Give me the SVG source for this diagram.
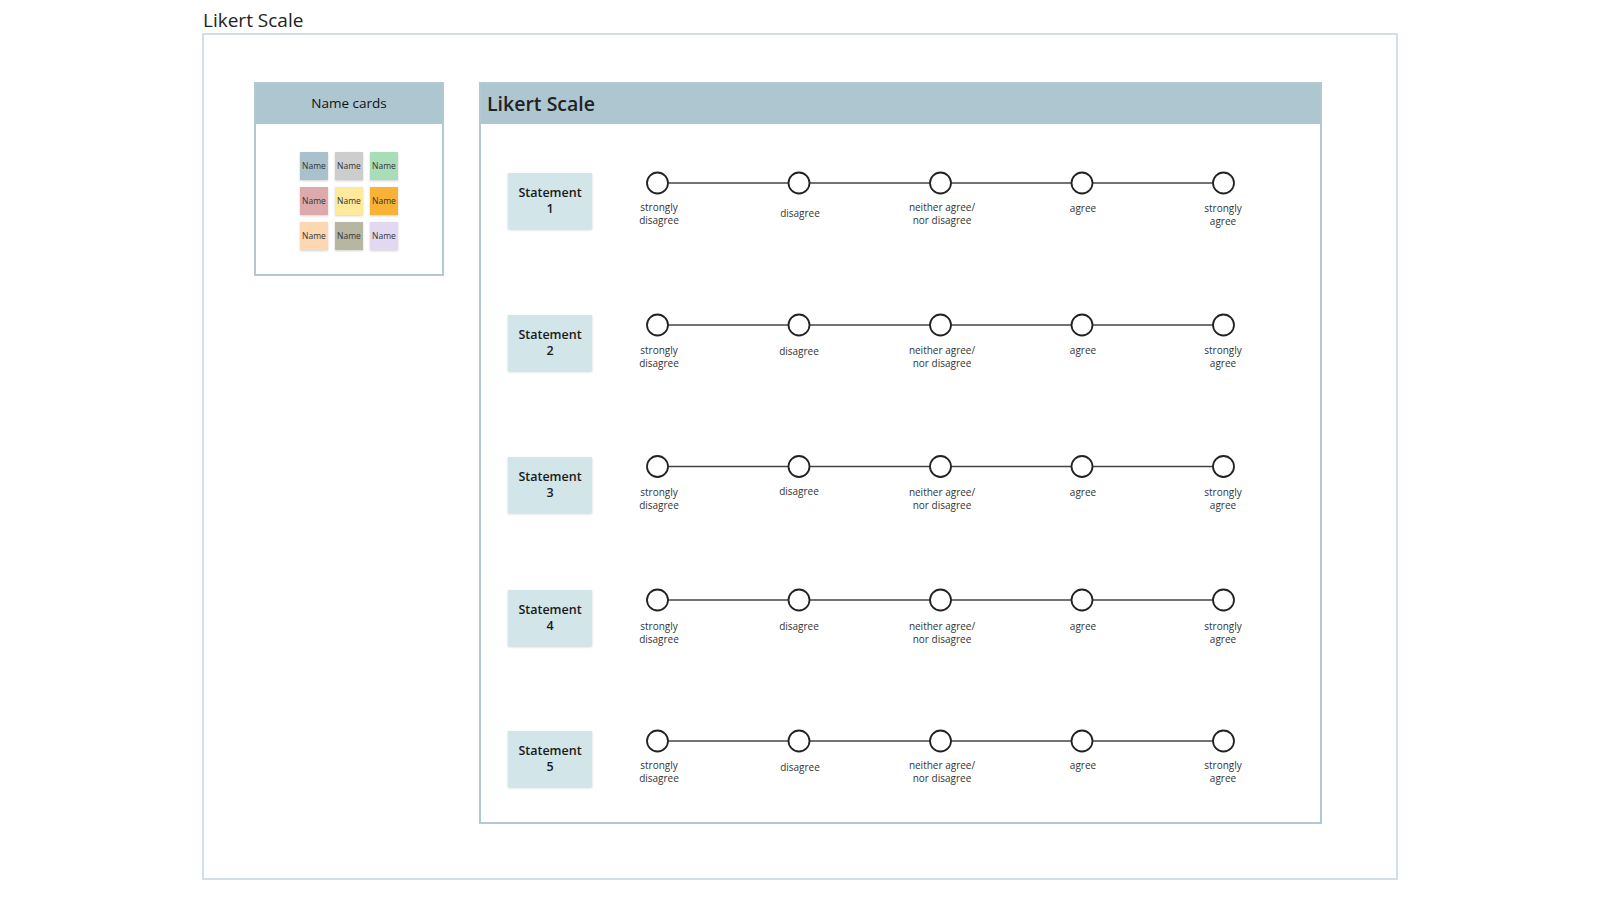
<svg xmlns="http://www.w3.org/2000/svg" width="1600" height="900" viewBox="0 0 1600 900">
<defs>
<filter id="sh" x="-20%" y="-20%" width="140%" height="140%">
<feDropShadow dx="0" dy="1" stdDeviation="1.2" flood-color="#000" flood-opacity="0.18"/>
</filter>
<style>
.t{font-family:"Open Sans","Noto Sans","Liberation Sans",sans-serif;fill:#222}
.frame{fill:#fff;stroke:#cfe1e6;stroke-width:2}
.panel{fill:#fff;stroke:#b3c8d1;stroke-width:2}
.hdr{fill:#aec6d0}
.card{filter:url(#sh)}
.cardt{font-family:"Open Sans","Noto Sans","Liberation Sans",sans-serif;font-size:8.5px;fill:#333;text-anchor:middle}
.stm{fill:#d2e5e8;filter:url(#sh)}
.stmt{font-family:"Open Sans","Noto Sans","Liberation Sans",sans-serif;font-size:12.5px;font-weight:600;fill:#1a1a1a;text-anchor:middle}
.dot{fill:#fff;stroke:#222;stroke-width:1.8}
.lbl{font-family:"Open Sans","Noto Sans","Liberation Sans",sans-serif;font-size:10px;fill:#333;text-anchor:middle}
.ln{stroke:#444;stroke-width:1.6;fill:none}
</style>
</defs>
<rect width="1600" height="900" fill="#fff"/>
<text class="t" x="203" y="27" font-size="19">Likert Scale</text>
<rect class="frame" x="203" y="34" width="1194" height="845"/>

<g id="name-cards">
<rect class="panel" x="255" y="83" width="188" height="192"/>
<rect class="hdr" x="256" y="84" width="186" height="40"/>
<text class="t" x="349" y="108" font-size="13.5" font-weight="500" style="fill:#111" text-anchor="middle">Name cards</text>
<g class="card">
<rect x="300" y="152" width="28" height="28" fill="#a9c1cc"/>
<rect x="335" y="152" width="28" height="28" fill="#cdcdcd"/>
<rect x="370" y="152" width="28" height="28" fill="#a9dcb9"/>
<rect x="300" y="187" width="28" height="28" fill="#dcaaac"/>
<rect x="335" y="187" width="28" height="28" fill="#fdea9c"/>
<rect x="370" y="187" width="28" height="28" fill="#f8b235"/>
<rect x="300" y="222" width="28" height="28" fill="#fdd6b2"/>
<rect x="335" y="222" width="28" height="28" fill="#b6b6a1"/>
<rect x="370" y="222" width="28" height="28" fill="#e3d8f1"/>
</g>
<text class="cardt" x="314" y="169">Name</text>
<text class="cardt" x="349" y="169">Name</text>
<text class="cardt" x="384" y="169">Name</text>
<text class="cardt" x="314" y="204">Name</text>
<text class="cardt" x="349" y="204">Name</text>
<text class="cardt" x="384" y="204">Name</text>
<text class="cardt" x="314" y="239">Name</text>
<text class="cardt" x="349" y="239">Name</text>
<text class="cardt" x="384" y="239">Name</text>
</g>

<g id="likert-panel">
<rect class="panel" x="480" y="83" width="841" height="740"/>
<rect class="hdr" x="481" y="84" width="839" height="40"/>
<text class="t" x="487" y="111" font-size="19.5" font-weight="600">Likert Scale</text>
</g>

<g id="connectors">
<line class="ln" x1="668" y1="183" x2="788" y2="183"/>
<line class="ln" x1="810" y1="183" x2="930" y2="183"/>
<line class="ln" x1="951" y1="183" x2="1071" y2="183"/>
<line class="ln" x1="1093" y1="183" x2="1213" y2="183"/>
<line class="ln" x1="668" y1="325" x2="788" y2="325"/>
<line class="ln" x1="810" y1="325" x2="930" y2="325"/>
<line class="ln" x1="951" y1="325" x2="1071" y2="325"/>
<line class="ln" x1="1093" y1="325" x2="1213" y2="325"/>
<line class="ln" x1="668" y1="466.5" x2="788" y2="466.5"/>
<line class="ln" x1="810" y1="466.5" x2="930" y2="466.5"/>
<line class="ln" x1="951" y1="466.5" x2="1071" y2="466.5"/>
<line class="ln" x1="1093" y1="466.5" x2="1213" y2="466.5"/>
<line class="ln" x1="668" y1="600" x2="788" y2="600"/>
<line class="ln" x1="810" y1="600" x2="930" y2="600"/>
<line class="ln" x1="951" y1="600" x2="1071" y2="600"/>
<line class="ln" x1="1093" y1="600" x2="1213" y2="600"/>
<line class="ln" x1="668" y1="741" x2="788" y2="741"/>
<line class="ln" x1="810" y1="741" x2="930" y2="741"/>
<line class="ln" x1="951" y1="741" x2="1071" y2="741"/>
<line class="ln" x1="1093" y1="741" x2="1213" y2="741"/>
</g>

<g id="statement-1">
<rect class="stm" x="508" y="173" width="84" height="56"/>
<text class="stmt" x="550" y="197">Statement</text>
<text class="stmt" x="550" y="213">1</text>
</g>
<g id="statement-2">
<rect class="stm" x="508" y="315" width="84" height="56"/>
<text class="stmt" x="550" y="339">Statement</text>
<text class="stmt" x="550" y="355">2</text>
</g>
<g id="statement-3">
<rect class="stm" x="508" y="457" width="84" height="56"/>
<text class="stmt" x="550" y="481">Statement</text>
<text class="stmt" x="550" y="497">3</text>
</g>
<g id="statement-4">
<rect class="stm" x="508" y="590" width="84" height="56"/>
<text class="stmt" x="550" y="614">Statement</text>
<text class="stmt" x="550" y="630">4</text>
</g>
<g id="statement-5">
<rect class="stm" x="508" y="731" width="84" height="56"/>
<text class="stmt" x="550" y="755">Statement</text>
<text class="stmt" x="550" y="771">5</text>
</g>

<g id="row-1">
<circle class="dot" cx="657.5" cy="183" r="10.5"/>
<circle class="dot" cx="799" cy="183" r="10.5"/>
<circle class="dot" cx="940.5" cy="183" r="10.5"/>
<circle class="dot" cx="1082" cy="183" r="10.5"/>
<circle class="dot" cx="1223.5" cy="183" r="10.5"/>
<text class="lbl" x="659" y="211">strongly</text><text class="lbl" x="659" y="224">disagree</text>
<text class="lbl" x="800" y="217">disagree</text>
<text class="lbl" x="942" y="211">neither agree/</text><text class="lbl" x="942" y="224">nor disagree</text>
<text class="lbl" x="1083" y="212">agree</text>
<text class="lbl" x="1223" y="212">strongly</text><text class="lbl" x="1223" y="225">agree</text>
</g>
<g id="row-2">
<circle class="dot" cx="657.5" cy="325" r="10.5"/>
<circle class="dot" cx="799" cy="325" r="10.5"/>
<circle class="dot" cx="940.5" cy="325" r="10.5"/>
<circle class="dot" cx="1082" cy="325" r="10.5"/>
<circle class="dot" cx="1223.5" cy="325" r="10.5"/>
<text class="lbl" x="659" y="354">strongly</text><text class="lbl" x="659" y="367">disagree</text>
<text class="lbl" x="799" y="355">disagree</text>
<text class="lbl" x="942" y="354">neither agree/</text><text class="lbl" x="942" y="367">nor disagree</text>
<text class="lbl" x="1083" y="354">agree</text>
<text class="lbl" x="1223" y="354">strongly</text><text class="lbl" x="1223" y="367">agree</text>
</g>
<g id="row-3">
<circle class="dot" cx="657.5" cy="466.5" r="10.5"/>
<circle class="dot" cx="799" cy="466.5" r="10.5"/>
<circle class="dot" cx="940.5" cy="466.5" r="10.5"/>
<circle class="dot" cx="1082" cy="466.5" r="10.5"/>
<circle class="dot" cx="1223.5" cy="466.5" r="10.5"/>
<text class="lbl" x="659" y="496">strongly</text><text class="lbl" x="659" y="509">disagree</text>
<text class="lbl" x="799" y="495">disagree</text>
<text class="lbl" x="942" y="496">neither agree/</text><text class="lbl" x="942" y="509">nor disagree</text>
<text class="lbl" x="1083" y="496">agree</text>
<text class="lbl" x="1223" y="496">strongly</text><text class="lbl" x="1223" y="509">agree</text>
</g>
<g id="row-4">
<circle class="dot" cx="657.5" cy="600" r="10.5"/>
<circle class="dot" cx="799" cy="600" r="10.5"/>
<circle class="dot" cx="940.5" cy="600" r="10.5"/>
<circle class="dot" cx="1082" cy="600" r="10.5"/>
<circle class="dot" cx="1223.5" cy="600" r="10.5"/>
<text class="lbl" x="659" y="630">strongly</text><text class="lbl" x="659" y="643">disagree</text>
<text class="lbl" x="799" y="630">disagree</text>
<text class="lbl" x="942" y="630">neither agree/</text><text class="lbl" x="942" y="643">nor disagree</text>
<text class="lbl" x="1083" y="630">agree</text>
<text class="lbl" x="1223" y="630">strongly</text><text class="lbl" x="1223" y="643">agree</text>
</g>
<g id="row-5">
<circle class="dot" cx="657.5" cy="741" r="10.5"/>
<circle class="dot" cx="799" cy="741" r="10.5"/>
<circle class="dot" cx="940.5" cy="741" r="10.5"/>
<circle class="dot" cx="1082" cy="741" r="10.5"/>
<circle class="dot" cx="1223.5" cy="741" r="10.5"/>
<text class="lbl" x="659" y="769">strongly</text><text class="lbl" x="659" y="782">disagree</text>
<text class="lbl" x="800" y="771">disagree</text>
<text class="lbl" x="942" y="769">neither agree/</text><text class="lbl" x="942" y="782">nor disagree</text>
<text class="lbl" x="1083" y="769">agree</text>
<text class="lbl" x="1223" y="769">strongly</text><text class="lbl" x="1223" y="782">agree</text>
</g>
</svg>
